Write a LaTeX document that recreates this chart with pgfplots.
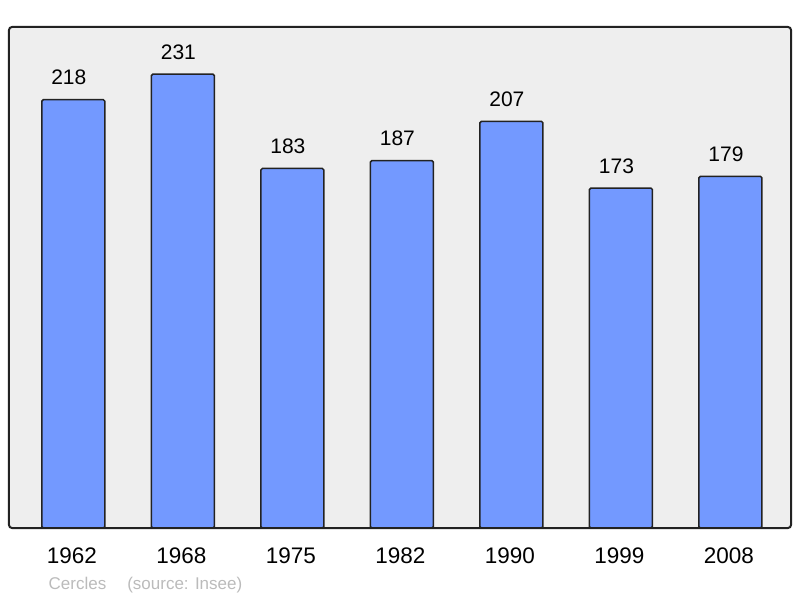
\documentclass[border=0pt]{standalone}
\usepackage{fontspec}
\setmainfont{Liberation Sans}
\usepackage{pgfplots}
\pgfplotsset{compat=1.18}
\definecolor{barfill}{HTML}{7399FF}
\definecolor{bg}{HTML}{EEEEEE}
\definecolor{frame}{HTML}{222222}
\definecolor{note}{HTML}{BBBBBB}
\begin{document}
\begin{tikzpicture}[x=1pt,y=1pt]
\path[use as bounding box] (0,0) rectangle (800,598);
\begin{axis}[
  at={(9pt,70pt)}, anchor=south west,
  scale only axis, width=782pt, height=501pt,
  xmin=-0.5875, xmax=6.553, ymin=0, ymax=255,
  clip=false,
  /pgf/number format/assume math mode=true,
  axis background/.style={fill=bg, rounded corners=3pt},
  axis line style={draw=none},
  ytick=\empty,
  xtick={0,1,2,3,4,5,6},
  xticklabels={1962,1968,1975,1982,1990,1999,2008},
  major tick length=0pt,
  xticklabel style={font=\fontsize{22.5}{22.5}\selectfont, anchor=center, yshift=-28pt, xshift=-1.5pt},
  ybar, bar width=63pt,
  nodes near coords,
  nodes near coords style={font=\fontsize{21}{21}\selectfont, anchor=center, yshift=22pt, xshift=-4.5pt, text=black},
]
\addplot[fill=barfill, draw=frame, line width=1.5pt, rounded corners=1.5pt]
  coordinates {(0,218) (1,231) (2,183) (3,187) (4,207) (5,173) (6,179)};
\draw[frame, line width=2pt, rounded corners=3pt] (rel axis cs:0,0) rectangle (rel axis cs:1,1);
\end{axis}
\node[anchor=west, inner sep=0pt, text=note, font=\fontsize{17}{17}\selectfont] at (48.5,13) {Cercles\hspace{21pt}(source: Insee)};
\end{tikzpicture}
\end{document}
